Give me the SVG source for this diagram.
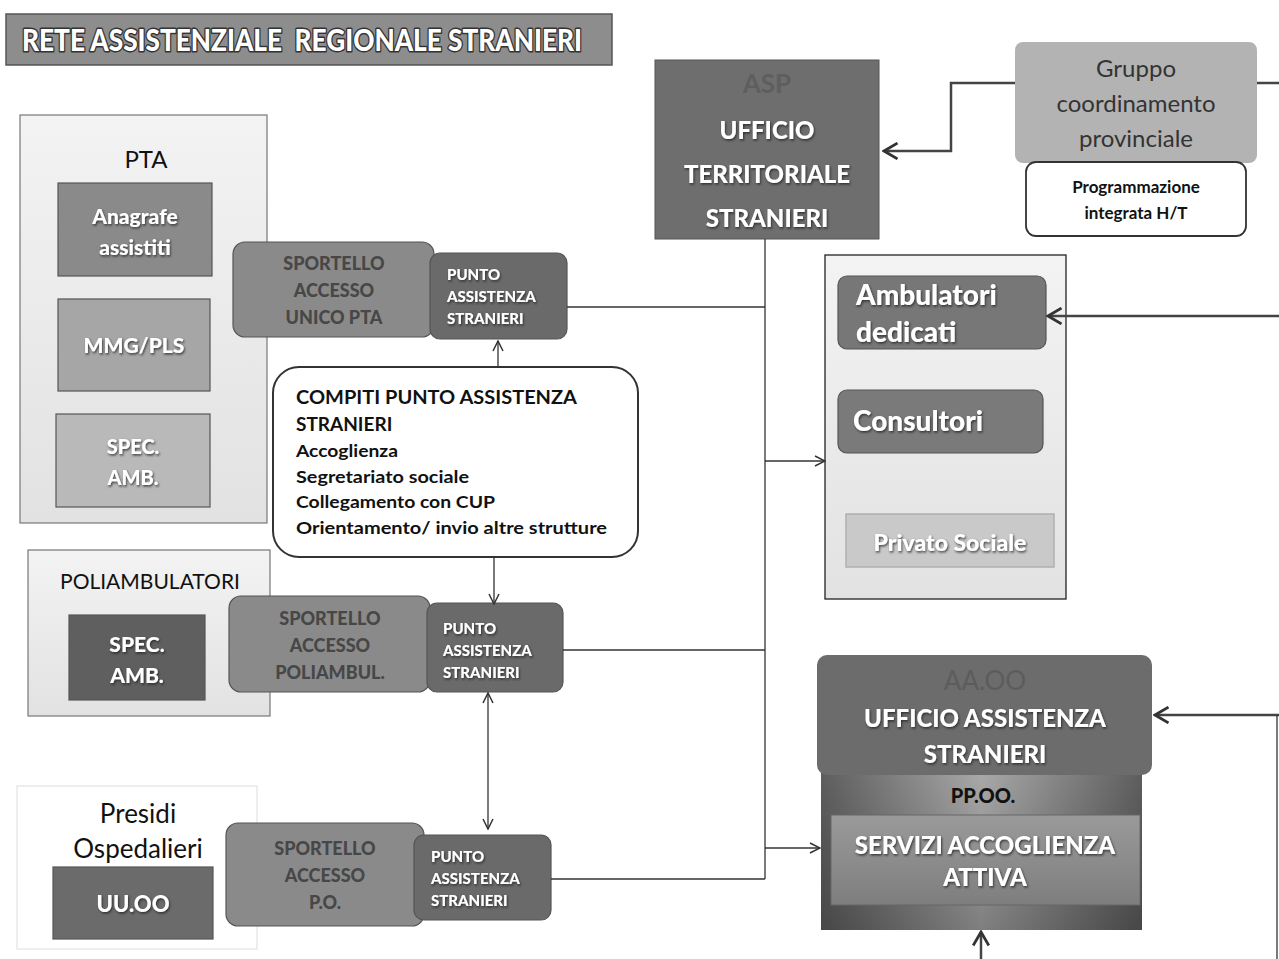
<svg xmlns="http://www.w3.org/2000/svg" width="1279" height="959" viewBox="0 0 1279 959">
<defs>
<linearGradient id="gLight" x1="0" y1="0" x2="0" y2="1"><stop offset="0" stop-color="#f3f3f3"/><stop offset="1" stop-color="#e2e2e2"/></linearGradient>
<linearGradient id="gPP" x1="0" y1="0" x2="1" y2="0"><stop offset="0" stop-color="#5e5e5e"/><stop offset="0.5" stop-color="#a9a9a9"/><stop offset="1" stop-color="#5e5e5e"/></linearGradient>
<linearGradient id="gPPv" x1="0" y1="0" x2="0" y2="1"><stop offset="0" stop-color="#000" stop-opacity="0"/><stop offset="1" stop-color="#000" stop-opacity="0.25"/></linearGradient>
<linearGradient id="gServ" x1="0" y1="0" x2="0" y2="1"><stop offset="0" stop-color="#9a9a9a"/><stop offset="1" stop-color="#7e7e7e"/></linearGradient>
<filter id="sh" x="-10%" y="-10%" width="120%" height="130%"><feDropShadow dx="1" dy="1.5" stdDeviation="1" flood-color="#222" flood-opacity="0.8"/></filter>
<marker id="ah" viewBox="0 0 12 12" refX="11" refY="6" markerWidth="12" markerHeight="12" markerUnits="userSpaceOnUse" orient="auto-start-reverse"><path d="M1,1 L11,6 L1,11" fill="none" stroke="#333" stroke-width="1.5"/></marker>
<marker id="ahb" viewBox="0 0 16 16" refX="14" refY="8" markerWidth="18" markerHeight="18" markerUnits="userSpaceOnUse" orient="auto-start-reverse"><path d="M2,1 L14,8 L2,15" fill="none" stroke="#333" stroke-width="2.5"/></marker>
</defs>
<style>
text{font-family:Lato,"Open Sans","Liberation Sans",sans-serif}
.wt{fill:#fff;font-weight:900;text-anchor:middle;filter:url(#sh)}
.wl{fill:#fff;font-weight:900;text-anchor:start;filter:url(#sh)}
.dk{fill:#474747;font-weight:900;text-anchor:middle}
.box{stroke:#555;stroke-width:1.2}
.cont{stroke:#777;stroke-width:1.2}
.ln{fill:none;stroke:#333;stroke-width:1.3}
.lnb{fill:none;stroke:#444;stroke-width:2.5}
</style>

<g id="title">
<rect x="6" y="14" width="606" height="51" fill="#8d8d8d" stroke="#555" stroke-width="1.5"/>
<text x="22" y="51" font-size="31" font-weight="900" fill="#fff" stroke="#333" stroke-width="3" stroke-linejoin="round" paint-order="stroke" textLength="560" lengthAdjust="spacingAndGlyphs">RETE ASSISTENZIALE &#160;REGIONALE STRANIERI</text>
</g>

<g id="pta">
<rect class="cont" x="20" y="115" width="247" height="408" fill="url(#gLight)"/>
<text x="146" y="168" font-size="24" fill="#111" text-anchor="middle">PTA</text>
</g>
<g id="anagrafe">
<rect class="box" x="58" y="183" width="154" height="93" fill="#8a8a8a"/>
<text class="wt" x="135" y="224" font-size="21">Anagrafe</text>
<text class="wt" x="135" y="255" font-size="21">assistiti</text>
</g>
<g id="mmg">
<rect class="box" x="58" y="299" width="152" height="92" fill="#a6a6a6"/>
<text class="wt" x="134" y="353" font-size="21">MMG/PLS</text>
</g>
<g id="spec-pta">
<rect class="box" x="56" y="414" width="154" height="93" fill="#b9b9b9"/>
<text class="wt" x="133" y="454" font-size="20">SPEC.</text>
<text class="wt" x="133" y="485" font-size="20">AMB.</text>
</g>

<g id="sportello-pta">
<rect class="box" x="233" y="242" width="201" height="95" rx="12" fill="#8a8a8a"/>
<text class="dk" x="334" y="270" font-size="18">SPORTELLO</text>
<text class="dk" x="334" y="297" font-size="18">ACCESSO</text>
<text class="dk" x="334" y="324" font-size="18">UNICO PTA</text>
</g>
<g id="punto-pta">
<rect class="box" x="430" y="253" width="137" height="86" rx="10" fill="#6a6a6a"/>
<text class="wl" x="447" y="280" font-size="15">PUNTO</text>
<text class="wl" x="447" y="302" font-size="15">ASSISTENZA</text>
<text class="wl" x="447" y="324" font-size="15">STRANIERI</text>
</g>

<g id="compiti">
<rect x="273" y="367" width="365" height="190" rx="26" fill="#fff" stroke="#333" stroke-width="2"/>
<g fill="#111" font-weight="bold">
<text x="296" y="404" font-size="19" textLength="281" lengthAdjust="spacingAndGlyphs">COMPITI PUNTO ASSISTENZA</text>
<text x="296" y="431" font-size="19">STRANIERI</text>
<text x="296" y="457" font-size="17" textLength="102" lengthAdjust="spacingAndGlyphs">Accoglienza</text>
<text x="296" y="483" font-size="17" textLength="173" lengthAdjust="spacingAndGlyphs">Segretariato sociale</text>
<text x="296" y="508" font-size="17" textLength="199" lengthAdjust="spacingAndGlyphs">Collegamento con CUP</text>
<text x="296" y="534" font-size="17" textLength="311" lengthAdjust="spacingAndGlyphs">Orientamento/ invio altre strutture</text>
</g>
</g>

<g id="poliambulatori">
<rect class="cont" x="28" y="550" width="242" height="166" fill="url(#gLight)"/>
<text x="150" y="589" font-size="21" fill="#111" text-anchor="middle">POLIAMBULATORI</text>
</g>
<g id="spec-poli">
<rect class="box" x="69" y="615" width="136" height="85" fill="#5f5f5f"/>
<text class="wt" x="137" y="652" font-size="21">SPEC.</text>
<text class="wt" x="137" y="683" font-size="21">AMB.</text>
</g>
<g id="sportello-poli">
<rect class="box" x="229" y="596" width="201" height="96" rx="12" fill="#8a8a8a"/>
<text class="dk" x="330" y="625" font-size="18">SPORTELLO</text>
<text class="dk" x="330" y="652" font-size="18">ACCESSO</text>
<text class="dk" x="330" y="679" font-size="18">POLIAMBUL.</text>
</g>
<g id="punto-poli">
<rect class="box" x="427" y="603" width="136" height="89" rx="10" fill="#6a6a6a"/>
<text class="wl" x="443" y="634" font-size="15">PUNTO</text>
<text class="wl" x="443" y="656" font-size="15">ASSISTENZA</text>
<text class="wl" x="443" y="678" font-size="15">STRANIERI</text>
</g>

<g id="presidi">
<rect x="17" y="786" width="240" height="163" fill="#fff" stroke="#ddd" stroke-width="1"/>
<text x="138" y="823" font-size="26" fill="#111" text-anchor="middle">Presidi</text>
<text x="138" y="858" font-size="26" fill="#111" text-anchor="middle">Ospedalieri</text>
</g>
<g id="uuoo">
<rect class="box" x="53" y="867" width="160" height="72" fill="#6b6b6b"/>
<text class="wt" x="133" y="912" font-size="22">UU.OO</text>
</g>
<g id="sportello-po">
<rect class="box" x="226" y="823" width="198" height="103" rx="12" fill="#8a8a8a"/>
<text class="dk" x="325" y="855" font-size="18">SPORTELLO</text>
<text class="dk" x="325" y="882" font-size="18">ACCESSO</text>
<text class="dk" x="325" y="909" font-size="18">P.O.</text>
</g>
<g id="punto-po">
<rect class="box" x="414" y="835" width="137" height="85" rx="10" fill="#6a6a6a"/>
<text class="wl" x="431" y="862" font-size="15">PUNTO</text>
<text class="wl" x="431" y="884" font-size="15">ASSISTENZA</text>
<text class="wl" x="431" y="906" font-size="15">STRANIERI</text>
</g>

<g id="asp">
<rect x="655" y="60" width="224" height="179" fill="#6e6e6e" stroke="#555" stroke-width="1"/>
<text x="767" y="93" font-size="26" font-weight="bold" fill="#5e5e5e" text-anchor="middle">ASP</text>
<text class="wt" x="767" y="139" font-size="24">UFFICIO</text>
<text class="wt" x="767" y="183" font-size="24">TERRITORIALE</text>
<text class="wt" x="767" y="227" font-size="24">STRANIERI</text>
</g>

<g id="gruppo">
<rect x="1015" y="42" width="242" height="121" rx="8" fill="#b3b3b3"/>
<text x="1136" y="77" font-size="24" fill="#333" text-anchor="middle">Gruppo</text>
<text x="1136" y="112" font-size="24" fill="#333" text-anchor="middle">coordinamento</text>
<text x="1136" y="147" font-size="24" fill="#333" text-anchor="middle">provinciale</text>
</g>
<g id="programmazione">
<rect x="1026" y="162" width="220" height="74" rx="10" fill="#fff" stroke="#333" stroke-width="1.8"/>
<text x="1136" y="193" font-size="17" font-weight="bold" fill="#111" text-anchor="middle">Programmazione</text>
<text x="1136" y="219" font-size="17" font-weight="bold" fill="#111" text-anchor="middle">integrata H/T</text>
</g>

<g id="servizi-territoriali">
<rect x="825" y="255" width="241" height="344" fill="url(#gLight)" stroke="#222" stroke-width="1.3"/>
</g>
<g id="ambulatori">
<rect class="box" x="838" y="276" width="208" height="73" rx="9" fill="#777"/>
<text class="wl" x="856" y="305" font-size="28">Ambulatori</text>
<text class="wl" x="856" y="342" font-size="28">dedicati</text>
</g>
<g id="consultori">
<rect class="box" x="838" y="390" width="205" height="63" rx="9" fill="#7a7a7a"/>
<text class="wl" x="853" y="431" font-size="28">Consultori</text>
</g>
<g id="privato">
<rect x="846" y="514" width="208" height="53" fill="#c9c9c9" stroke="#b0b0b0" stroke-width="1.5"/>
<text class="wt" x="950" y="551" font-size="23">Privato Sociale</text>
</g>

<g id="aaoo">
<rect x="821" y="772" width="321" height="158" fill="url(#gPP)"/>
<rect x="821" y="772" width="321" height="158" fill="url(#gPPv)"/>
<rect x="817" y="655" width="335" height="120" rx="10" fill="#6c6c6c"/>
<text x="985" y="690" font-size="26" fill="#5c5c5c" text-anchor="middle">AA.OO</text>
<text class="wt" x="985" y="727" font-size="24">UFFICIO ASSISTENZA</text>
<text class="wt" x="985" y="763" font-size="24">STRANIERI</text>
<text x="983" y="803" font-size="20" font-weight="900" fill="#111" text-anchor="middle">PP.OO.</text>
</g>
<g id="servizi-accoglienza">
<rect x="831" y="815" width="309" height="90" fill="url(#gServ)" stroke="#666" stroke-width="1"/>
<text class="wt" x="985" y="854" font-size="24">SERVIZI ACCOGLIENZA</text>
<text class="wt" x="985" y="886" font-size="24">ATTIVA</text>
</g>

<g id="connectors">
<path class="lnb" d="M1015,83 H951 V151 H884" marker-end="url(#ahb)"/>
<path class="lnb" d="M1257,83 H1279"/>
<path class="lnb" d="M1279,316 H1048" marker-end="url(#ahb)"/>
<path class="lnb" d="M1279,715 H1155" marker-end="url(#ahb)"/>
<path class="ln" d="M1277,715 V959" stroke="#777"/>
<path class="lnb" d="M981,959 V932" marker-end="url(#ahb)"/>
<path class="ln" d="M765,239 V879"/>
<path class="ln" d="M567,307 H765"/>
<path class="ln" d="M563,650 H765"/>
<path class="ln" d="M551,879 H765"/>
<path class="ln" d="M765,461 H825" marker-end="url(#ah)"/>
<path class="ln" d="M765,848 H820" marker-end="url(#ah)"/>
<path class="ln" d="M498,367 V341" marker-end="url(#ah)"/>
<path class="ln" d="M494,557 V604" marker-end="url(#ah)"/>
<path class="ln" d="M488,693 V829" marker-start="url(#ah)" marker-end="url(#ah)"/>
</g>
</svg>
